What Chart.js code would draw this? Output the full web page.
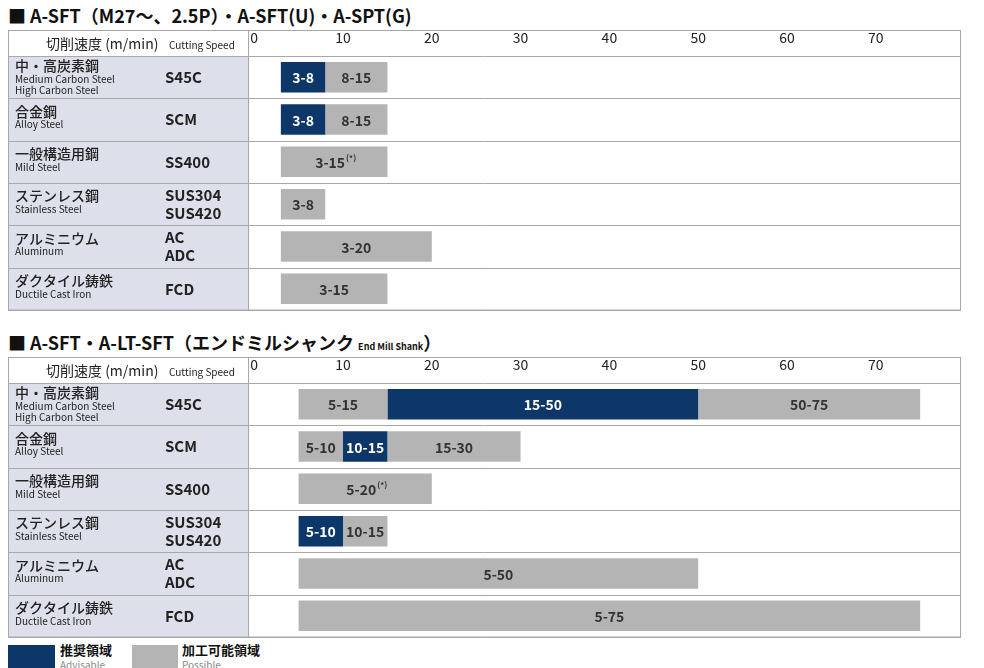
<!DOCTYPE html>
<html><head><meta charset="utf-8">
<script src="https://cdn.jsdelivr.net/npm/chart.js@4"></script>
<style>
body{margin:0;background:#fff;width:984px;height:668px;overflow:hidden;font-family:"Noto Sans CJK JP","Noto Sans",sans-serif;position:relative}
.t{position:absolute;left:8px;font-weight:bold;font-size:18px;color:#111;white-space:nowrap}
.t small{font-size:9px}
.c{position:absolute;left:8px;width:953px;height:281px}
.lg{position:absolute;top:645px;height:23px}
.lt{position:absolute;top:642px;font-size:13px;font-weight:bold;line-height:15px;color:#111}
.lt span{display:block;font-size:10px;font-weight:normal;color:#888}
</style></head><body>
<div class="t" style="top:2px">■ A-SFT（M27～、2.5P）・A-SFT(U)・A-SPT(G)</div>
<div class="c" style="top:30px"><canvas id="c1"></canvas></div>
<div class="t" style="top:329px">■ A-SFT・A-LT-SFT（エンドミルシャンク <small>End Mill Shank</small>）</div>
<div class="c" style="top:357px"><canvas id="c2"></canvas></div>
<div class="lg" style="left:8px;width:47px;background:#0d3768"></div>
<div class="lt" style="left:60px">推奨領域<span>Advisable</span></div>
<div class="lg" style="left:132px;width:46px;background:#b4b4b4"></div>
<div class="lt" style="left:182px">加工可能領域<span>Possible</span></div>
<script>
const materialsJa = ["中・高炭素鋼","合金鋼","一般構造用鋼","ステンレス鋼","アルミニウム","ダクタイル鋳鉄"];
const materialsEn = [["Medium Carbon Steel","High Carbon Steel"],["Alloy Steel"],["Mild Steel"],["Stainless Steel"],["Aluminum"],["Ductile Cast Iron"]];
const codes = [["S45C"],["SCM"],["SS400"],["SUS304","SUS420"],["AC","ADC"],["FCD"]];
const xTicks = [0,10,20,30,40,50,60,70];
// segments per row: [start, end, kind] kind: "A"=advisable, "P"=possible, "P*"=possible w/ note
const panel1 = [
  [[3,8,"A"],[8,15,"P"]],
  [[3,8,"A"],[8,15,"P"]],
  [[3,15,"P*"]],
  [[3,8,"P"]],
  [[3,20,"P"]],
  [[3,15,"P"]]
];
const panel2 = [
  [[5,15,"P"],[15,50,"A"],[50,75,"P"]],
  [[5,10,"P"],[10,15,"A"],[15,30,"P"]],
  [[5,20,"P*"]],
  [[5,10,"A"],[10,15,"P"]],
  [[5,50,"P"]],
  [[5,75,"P"]]
];
const NAVY="#0d3768", GRAY="#b4b4b4", CELL="#dde0ea", LINE="#a8a8a8";
const FONT='"Noto Sans CJK JP","Noto Sans",sans-serif';

function makeChart(id, panel){
  const n = Math.max(...panel.map(r=>r.length));
  const datasets=[];
  for(let k=0;k<n;k++){
    datasets.push({
      data: panel.map(r=>r[k]?[r[k][0],r[k][1]]:null),
      backgroundColor: panel.map(r=>r[k]&&r[k][2]==="A"?NAVY:GRAY),
      kinds: panel.map(r=>r[k]?r[k][2]:null),
      grouped:false, borderWidth:0,
      barPercentage:0.72, categoryPercentage:1
    });
  }
  const table={id:'table',
    beforeDraw(ch){
      const c=ch.ctx, a=ch.chartArea, y=ch.scales.y, W=ch.width;
      const rh=(a.bottom-a.top)/materialsJa.length;
      c.save();
      c.fillStyle=CELL; c.fillRect(0,a.top,a.left,a.bottom-a.top);
      c.strokeStyle=LINE; c.lineWidth=1;
      for(let i=0;i<=materialsJa.length;i++){const yy=Math.round(a.top+i*rh)+0.5;c.beginPath();c.moveTo(0,yy);c.lineTo(W,yy);c.stroke();}
      c.beginPath();c.moveTo(a.left+0.5,0);c.lineTo(a.left+0.5,a.bottom);c.stroke();
      c.strokeRect(0.5,0.5,W-1,a.bottom-0.5);
      c.fillStyle="#222";c.textBaseline="middle";c.textAlign="left";
      c.font="14px "+FONT;c.fillText("切削速度 (m/min)",38,a.top/2+1);
      c.font="10px "+FONT;c.fillText("Cutting Speed",161,a.top/2+2);
      materialsJa.forEach((m,i)=>{
        const cy=y.getPixelForValue(i), en=materialsEn[i];
        const top=cy-(en.length===2?11:8);
        c.fillStyle="#222";c.font="500 14px "+FONT;c.fillText(m,7,top);
        c.font="10px "+FONT;en.forEach((e,j)=>c.fillText(e,7,top+13+j*11));
        c.font="bold 15px "+FONT;
        const cs=codes[i];cs.forEach((s,j)=>c.fillText(s,157,cy+(cs.length===2?(j?9:-9):0)));
      });
      c.restore();
    },
    afterDatasetsDraw(ch){
      const c=ch.ctx;c.save();c.textAlign="center";c.textBaseline="middle";
      ch.data.datasets.forEach((ds,k)=>{
        ch.getDatasetMeta(k).data.forEach((el,i)=>{
          const v=ds.data[i];if(!v)return;
          const kind=ds.kinds[i];const cx=(el.x+el.base)/2;
          c.fillStyle=kind==="A"?"#fff":"#333";c.font="bold 14px "+FONT;
          const t=v[0]+"-"+v[1];
          if(kind==="P*"){const w=c.measureText(t).width;c.fillText(t,cx-4,el.y+1);c.font="bold 8px "+FONT;c.fillText("(*)",cx-4+w/2+6,el.y-4);}
          else c.fillText(t,cx,el.y+1);
        });
      });
      c.restore();
    }
  };
  new Chart(document.getElementById(id),{type:'bar',
    data:{labels:materialsJa,datasets},
    options:{indexAxis:'y',responsive:true,maintainAspectRatio:false,animation:false,
      layout:{padding:{left:240,right:0,top:0,bottom:1}},
      plugins:{legend:{display:false},tooltip:{enabled:false}},
      scales:{
        x:{position:'top',min:-0.7,max:79.6,grid:{display:false},border:{display:false},
          afterBuildTicks(s){s.ticks=xTicks.map(v=>({value:v}));},
          afterFit(s){s.height=26;},
          ticks:{color:"#222",font:{size:14,family:FONT},padding:2}},
        y:{display:false}
      }},
    plugins:[table]});
}
makeChart('c1',panel1);
makeChart('c2',panel2);
</script></body></html>
